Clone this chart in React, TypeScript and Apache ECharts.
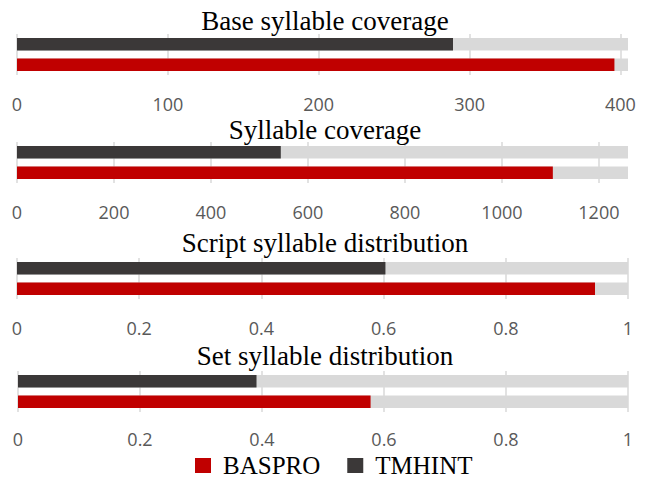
import React, { useEffect, useRef } from "react";
import * as echarts from "echarts";

const categories = ["BASPRO", "TMHINT"];
const panelTitles = [
  "Base syllable coverage",
  "Syllable coverage",
  "Script syllable distribution",
  "Set syllable distribution",
];
const basproValues = [396, 1105, 0.946, 0.578];
const tmhintValues = [289, 544, 0.603, 0.391];
const axisMax = [405, 1260, 1, 1];
const tickIntervals = [100, 200, 0.2, 0.2];

const gridTops = [34, 142, 258, 371];
const titleTops = [2, 111, 224, 337];
const gridLefts = [17, 17, 17, 18];
const labelMargins = [20, 20, 20, 18];

const SERIF = "'Times New Roman', 'Liberation Serif', serif";
const SANS = "'Open Sans', 'Noto Sans', sans-serif";
const RED = "#C00000";
const DARK = "#3B3838";
const LIGHT = "#D9D9D9";

export default function App() {
  const ref = useRef<HTMLDivElement>(null);
  useEffect(() => {
    if (!ref.current) return;
    const chart = echarts.init(ref.current, null, { renderer: "svg" });
    const title: any[] = [];
    const grid: any[] = [];
    const xAxis: any[] = [];
    const yAxis: any[] = [];
    const series: any[] = [];
    panelTitles.forEach((t, i) => {
      title.push({
        text: t,
        left: "center",
        top: titleTops[i],
        textStyle: { fontFamily: SERIF, fontSize: 27, fontWeight: "normal", color: "#000" },
      });
      grid.push({ left: gridLefts[i], right: 22, top: gridTops[i], height: 41 });
      xAxis.push({
        type: "value",
        gridIndex: i,
        min: 0,
        max: axisMax[i],
        interval: tickIntervals[i],
        axisLine: { show: false },
        axisTick: { show: false },
        splitLine: {
          show: true,
          showMaxLine: axisMax[i] % tickIntervals[i] === 0 || axisMax[i] === 1,
          lineStyle: { color: LIGHT, width: 1.5 },
        },
        axisLabel: {
          show: true,
          margin: labelMargins[i],
          showMaxLabel: axisMax[i] === 1,
          fontFamily: SANS,
          fontSize: 18,
          lineHeight: 18,
          color: "#595959",
          formatter: (v: number) => String(Math.round(v * 1000) / 1000),
        },
      });
      yAxis.push({
        type: "category",
        gridIndex: i,
        data: categories,
        axisLine: { show: false },
        axisTick: { show: false },
        axisLabel: { show: false },
        splitLine: { show: false },
      });
      series.push({
        type: "bar",
        name: "bg",
        xAxisIndex: i,
        yAxisIndex: i,
        data: [axisMax[i], axisMax[i]],
        barWidth: "60%",
        barGap: "-100%",
        itemStyle: { color: LIGHT },
        silent: true,
      });
      series.push({
        type: "bar",
        name: "BASPRO",
        xAxisIndex: i,
        yAxisIndex: i,
        data: [basproValues[i], "-"],
        barWidth: "60%",
        barGap: "-100%",
        itemStyle: { color: RED },
      });
      series.push({
        type: "bar",
        name: "TMHINT",
        xAxisIndex: i,
        yAxisIndex: i,
        data: ["-", tmhintValues[i]],
        barWidth: "60%",
        barGap: "-100%",
        itemStyle: { color: DARK },
      });
    });
    chart.setOption({
      animation: false,
      backgroundColor: "#fff",
      title,
      grid,
      xAxis,
      yAxis,
      series,
      legend: {
        data: ["BASPRO", "TMHINT"],
        left: 195,
        top: 453,
        icon: "rect",
        itemWidth: 16,
        itemHeight: 15,
        itemGap: 27,
        padding: 0,
        textStyle: {
          fontFamily: SERIF,
          fontSize: 25,
          lineHeight: 20,
          color: "#000",
          padding: [0, 0, 0, 7],
        },
      },
    });
    return () => chart.dispose();
  }, []);
  return (
    <div
      ref={ref}
      style={{ position: "fixed", left: 0, top: 0, width: 650, height: 478 }}
    />
  );
}
